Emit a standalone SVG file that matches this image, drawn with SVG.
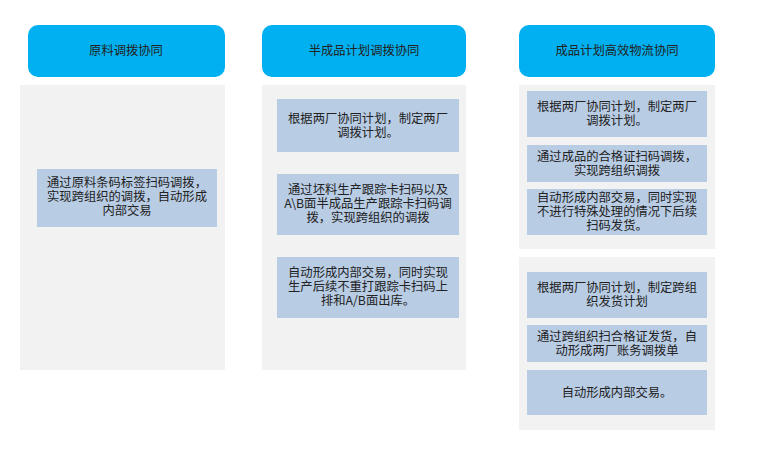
<svg xmlns="http://www.w3.org/2000/svg" width="781" height="455" viewBox="0 0 781 455">
<style>
.h{fill:#00b0f0}
.p{fill:#f2f2f2}
.b{fill:#b8cce4}
text{font-family:"Noto Sans CJK SC","Liberation Sans",sans-serif;font-size:12.3px;fill:#222;text-anchor:middle}
</style>
<rect width="781" height="455" fill="#fff"/>
<g id="col1">
<rect class="h" x="28" y="25" width="197" height="52" rx="10"/>
<text x="126" y="55">原料调拨协同</text>
<rect class="p" x="20" y="85" width="205" height="285"/>
<rect class="b" x="37" y="169" width="180" height="58"/>
<text x="127" y="187">通过原料条码标签扫码调拨，</text>
<text x="127" y="201">实现跨组织的调拨，自动形成</text>
<text x="127" y="215">内部交易</text>
</g>
<g id="col2">
<rect class="h" x="262" y="25" width="204" height="52" rx="10"/>
<text x="364" y="55">半成品计划调拨协同</text>
<rect class="p" x="262" y="85" width="204" height="285"/>
<rect class="b" x="277" y="99" width="182" height="53"/>
<text x="368" y="123">根据两厂协同计划，制定两厂</text>
<text x="368" y="137">调拨计划。</text>
<rect class="b" x="277" y="174" width="182" height="61"/>
<text x="368" y="194">通过坯料生产跟踪卡扫码以及</text>
<text x="368" y="208">A\B面半成品生产跟踪卡扫码调</text>
<text x="368" y="222">拨，实现跨组织的调拨</text>
<rect class="b" x="277" y="257" width="182" height="61"/>
<text x="368" y="277">自动形成内部交易，同时实现</text>
<text x="368" y="291">生产后续不重打跟踪卡扫码上</text>
<text x="368" y="305">排和A/B面出库。</text>
</g>
<g id="col3">
<rect class="h" x="519" y="25" width="196" height="52" rx="10"/>
<text x="617" y="55">成品计划高效物流协同</text>
<rect class="p" x="519" y="85" width="196" height="164"/>
<rect class="b" x="527" y="91" width="180" height="46"/>
<text x="617" y="111">根据两厂协同计划，制定两厂</text>
<text x="617" y="125">调拨计划。</text>
<rect class="b" x="527" y="145" width="180" height="37"/>
<text x="617" y="161">通过成品的合格证扫码调拨，</text>
<text x="617" y="175">实现跨组织调拨</text>
<rect class="b" x="527" y="189" width="180" height="46"/>
<text x="617" y="202">自动形成内部交易，同时实现</text>
<text x="617" y="216">不进行特殊处理的情况下后续</text>
<text x="617" y="230">扫码发货。</text>
<rect class="p" x="519" y="257" width="196" height="173"/>
<rect class="b" x="527" y="272" width="180" height="46"/>
<text x="617" y="292">根据两厂协同计划，制定跨组</text>
<text x="617" y="306">织发货计划</text>
<rect class="b" x="527" y="325" width="180" height="37"/>
<text x="617" y="341">通过跨组织扫合格证发货，自</text>
<text x="617" y="355">动形成两厂账务调拨单</text>
<rect class="b" x="527" y="370" width="180" height="45"/>
<text x="617" y="397">自动形成内部交易。</text>
</g>
<g id="connectors"/>
</svg>
